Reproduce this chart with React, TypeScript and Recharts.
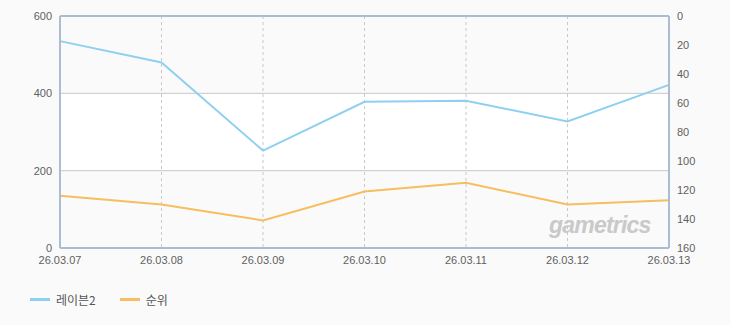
import React from "react"
import {
  LineChart,
  Line,
  XAxis,
  YAxis,
  CartesianGrid,
  ReferenceLine,
} from "recharts"

const dates = ["26.03.07", "26.03.08", "26.03.09", "26.03.10", "26.03.11", "26.03.12", "26.03.13"]
const raven2 = [535, 480, 252, 378, 381, 327, 422]
const rank = [124, 130, 141, 121, 115, 130, 127]
const leftTicks = [0, 200, 400, 600]
const rightTicks = [0, 20, 40, 60, 80, 100, 120, 140, 160]

const data = dates.map((date, i) => ({ date, raven2: raven2[i], rank: rank[i] }))

const BORDER = "#aabdd2"
const tickStyle = { fontSize: 11, fill: "#5f5f5f", fontFamily: "'Liberation Sans', Arial, sans-serif" }

// legend drawn as plain html so it doesn't eat plot height
const LegendBox = () => (
  <div
    style={{
      position: "absolute",
      left: 30,
      top: 291,
      display: "flex",
      alignItems: "center",
      fontSize: 12,
      color: "#555",
      fontFamily: "'Noto Sans CJK KR', sans-serif",
    }}
  >
    <span style={{ display: "inline-block", width: 20, height: 3, background: "#8fd0f0", marginRight: 6 }} />
    <span style={{ marginRight: 24 }}>레이븐2</span>
    <span style={{ display: "inline-block", width: 20, height: 3, background: "#f8bd5e", marginRight: 6 }} />
    <span>순위</span>
  </div>
)

const App = () => {
  return (
    <div style={{ position: "relative", width: 730, height: 325, background: "#fafafa" }}>
      <style>{"body{margin:0;background:#fafafa}"}</style>
      <LineChart
        width={730}
        height={325}
        data={data}
        margin={{ top: 16, right: 0, left: 0, bottom: 57 }}
      >
        <CartesianGrid
          yAxisId="left"
          vertical={false}
          stroke="#c8c8c8"
          horizontalFill={["#fafafa", "#ffffff"]}
          fillOpacity={1}
        />
        <CartesianGrid yAxisId="left" horizontal={false} stroke="#c8c8c8" strokeDasharray="3 3" />
        <XAxis
          dataKey="date"
          height={20}
          tickLine={false}
          axisLine={{ stroke: BORDER, strokeWidth: 2 }}
          tick={tickStyle}
          tickMargin={2}
          interval={0}
        />
        <YAxis
          yAxisId="left"
          width={60}
          domain={[0, 600]}
          ticks={leftTicks}
          tickLine={false}
          axisLine={{ stroke: BORDER, strokeWidth: 2 }}
          tick={tickStyle}
          tickMargin={2}
        />
        <YAxis
          yAxisId="right"
          orientation="right"
          width={61}
          domain={[0, 160]}
          ticks={rightTicks}
          reversed
          tickLine={false}
          axisLine={{ stroke: BORDER, strokeWidth: 2 }}
          tick={tickStyle}
          tickMargin={2}
        />
        <ReferenceLine yAxisId="left" y={600} stroke={BORDER} strokeWidth={2} />
        <Line
          yAxisId="left"
          dataKey="raven2"
          stroke="#8fd0f0"
          strokeWidth={2}
          dot={false}
          isAnimationActive={false}
        />
        <Line
          yAxisId="right"
          dataKey="rank"
          stroke="#f8bd5e"
          strokeWidth={2}
          dot={false}
          isAnimationActive={false}
        />
      </LineChart>
      <LegendBox />
      <div
        style={{
          position: "absolute",
          left: 549,
          top: 212,
          fontSize: 23,
          fontWeight: "bold",
          fontStyle: "italic",
          color: "#c9c9c9",
          fontFamily: "'Liberation Sans', Arial, sans-serif",
          letterSpacing: -0.8,
        }}
      >
        gametrics
      </div>
    </div>
  )
}

export default App
